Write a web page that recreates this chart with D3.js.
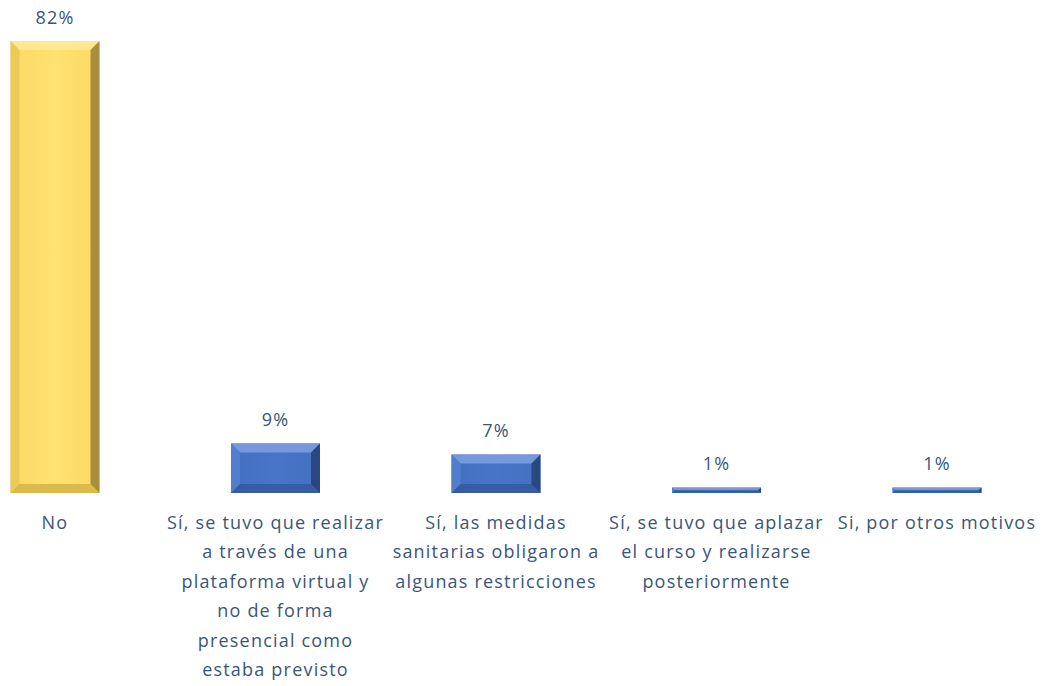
<!DOCTYPE html>
<html>
<head>
<meta charset="utf-8">
<script src="https://cdn.jsdelivr.net/npm/d3@7"></script>
<style>
  body { margin: 0; background: #fff; }
  svg text { font-family: "Open Sans", "Liberation Sans", sans-serif; }
</style>
</head>
<body>
<div id="chart"></div>
<script>
// categories (line breaks as in the original axis labels)
var categories = [
  "No",
  "Sí, se tuvo que realizar\na través de una\nplataforma virtual y\nno de forma\npresencial como\nestaba previsto",
  "Sí, las medidas\nsanitarias obligaron a\nalgunas restricciones",
  "Sí, se tuvo que aplazar\nel curso y realizarse\nposteriormente",
  "Si, por otros motivos"
];
var values = [82, 9, 7, 1, 1];
var valueLabels = ["82%", "9%", "7%", "1%", "1%"];

var width = 1045, height = 686;
var baseY = 493, topY = 41;
var textColor = "#3a5679";

var svg = d3.select("#chart").append("svg")
  .attr("width", width)
  .attr("height", height);

// X positions: centres of bars
var x = d3.scalePoint()
  .domain(d3.range(categories.length))
  .range([55, 937]);
var barW = 89;

// Y scale
var y = d3.scaleLinear()
  .domain([0, 82])
  .range([baseY, topY]);

var defs = svg.append("defs");

// gradients for each colour
function makeGrad(id, c1, c2) {
  var g = defs.append("linearGradient").attr("id", id)
    .attr("x1", 0).attr("y1", 0).attr("x2", 1).attr("y2", 0);
  g.append("stop").attr("offset", "0%").attr("stop-color", c1);
  g.append("stop").attr("offset", "50%").attr("stop-color", c2);
  g.append("stop").attr("offset", "100%").attr("stop-color", c1);
}
makeGrad("gYel", "#fbd862", "#ffe272");
makeGrad("gBlue", "#4570c1", "#4875c8");

var colors = [
  {fill: "url(#gYel)", light: "#ffeb9a", dark: "#8a7530", mid: "#d2b044", side: "#e9c859"},
  {fill: "url(#gBlue)", light: "#7fa3e2", dark: "#203a69", mid: "#34589a", side: "#5380cf"}
];

var bars = svg.selectAll("g.bar")
  .data(values)
  .enter()
  .append("g")
    .attr("class", "bar");

bars.each(function(d, i) {
  var g = d3.select(this);
  var c = i == 0 ? colors[0] : colors[1];
  var x0 = x(i) - barW / 2, x1 = x(i) + barW / 2;
  var y0 = y(d), y1 = y(0);
  var h = y1 - y0;
  var b = Math.min(9, h / 2.2);

  g.append("rect")
    .attr("x", x0).attr("y", y0)
    .attr("width", barW).attr("height", h)
    .attr("fill", c.fill);

  // bevel edges
  if (h > 5) {
    // top
    g.append("polygon")
      .attr("points", [[x0, y0], [x1, y0], [x1 - b, y0 + b], [x0 + b, y0 + b]].join(" "))
      .attr("fill", c.light).attr("opacity", 0.8);
    // left
    g.append("polygon")
      .attr("points", [[x0, y0], [x0 + b, y0 + b], [x0 + b, y1 - b], [x0, y1]].join(" "))
      .attr("fill", c.side).attr("opacity", 0.9);
    // bottom
    g.append("polygon")
      .attr("points", [[x0, y1], [x0 + b, y1 - b], [x1 - b, y1 - b], [x1, y1]].join(" "))
      .attr("fill", c.mid).attr("opacity", 0.8);
    // right
    g.append("polygon")
      .attr("points", [[x1, y0], [x1 - b, y0 + b], [x1 - b, y1 - b], [x1, y1]].join(" "))
      .attr("fill", c.dark).attr("opacity", 0.75);
  } else {
    g.append("rect")
      .attr("x", x0).attr("y", y1 - 1)
      .attr("width", barW).attr("height", 1)
      .attr("fill", c.mid).attr("opacity", 0.6);
  }
});

// value labels
svg.selectAll("text.val")
  .data(values)
  .enter()
  .append("text")
    .attr("class", "val")
    .attr("x", function(d, i) { return x(i); })
    .attr("y", function(d) { return y(d) - 17; })
    .attr("text-anchor", "middle")
    .attr("font-size", "18px")
    .attr("letter-spacing", "1.2px")
    .attr("fill", textColor)
    .text(function(d, i) { return valueLabels[i]; });

// category labels
var lineH = 29.4;
var cat = svg.selectAll("text.cat")
  .data(categories)
  .enter()
  .append("text")
    .attr("class", "cat")
    .attr("text-anchor", "middle")
    .attr("font-size", "18px")
    .attr("letter-spacing", "1.2px")
    .attr("fill", textColor);

cat.each(function(d, i) {
  var t = d3.select(this);
  d.split("\n").forEach(function(line, k) {
    t.append("tspan")
      .attr("x", x(i))
      .attr("y", 529 + k * lineH)
      .text(line);
  });
});
</script>
</body>
</html>
